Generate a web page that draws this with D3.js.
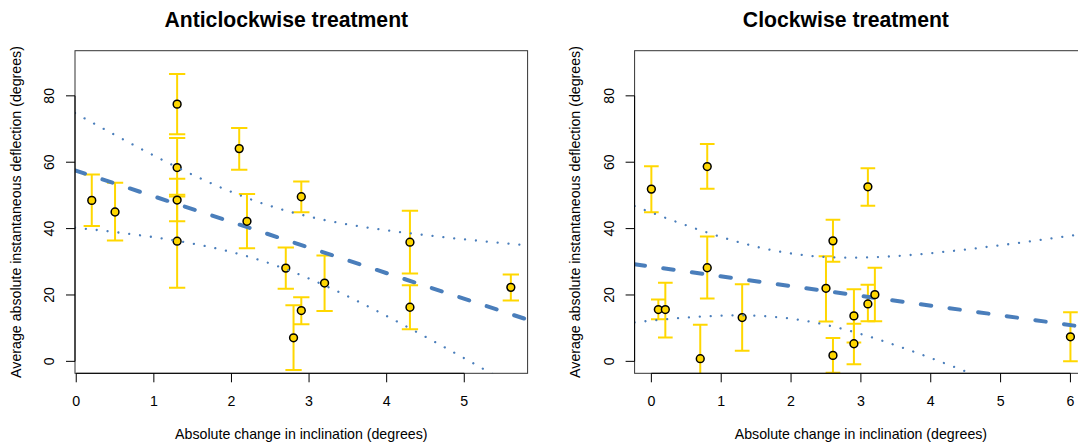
<!DOCTYPE html>
<html>
<head>
<meta charset="utf-8">
<script src="https://cdn.jsdelivr.net/npm/d3@7"></script>
<style>
  body { margin: 0; background: #fff; }
  text { font-family: "Liberation Sans", Arial, Helvetica, sans-serif; fill: #000; }
</style>
</head>
<body>
<svg id="chart" width="1078" height="447"></svg>
<script>
// ---- Anticlockwise treatment: per-fish means with error-bar limits ----
const antiX     = [0.2, 0.5, 1.3, 1.3, 1.3, 1.3, 2.1, 2.2, 2.7, 2.8, 2.9, 2.9, 3.2, 4.3, 4.3, 5.6];
const antiMean  = [48.5, 45.0, 77.5, 58.4, 48.6, 36.2, 64.1, 42.2, 28.1, 7.1, 15.3, 49.6, 23.6, 35.9, 16.3, 22.3];
const antiUpper = [56.3, 53.8, 86.6, 67.3, 55.0, 50.2, 70.3, 50.4, 34.3, 16.9, 19.3, 54.2, 31.9, 45.4, 22.9, 26.2];
const antiLower = [40.8, 36.4, 68.4, 49.7, 42.2, 22.2, 57.7, 34.1, 21.9, -2.6, 11.2, 44.9, 15.2, 26.5, 9.7, 18.3];

// ---- Clockwise treatment ----
const clockX     = [0.0, 0.1, 0.2, 0.7, 0.8, 0.8, 1.3, 2.5, 2.6, 2.6, 2.9, 2.9, 3.1, 3.1, 3.2, 6.0];
const clockMean  = [51.9, 15.6, 15.6, 0.8, 58.7, 28.2, 13.2, 22.0, 36.3, 1.8, 13.7, 5.3, 52.6, 17.3, 20.1, 7.4];
const clockUpper = [58.8, 18.6, 23.7, 11.0, 65.5, 37.6, 23.2, 31.7, 42.7, 7.0, 21.7, 11.3, 58.2, 23.1, 28.2, 14.8];
const clockLower = [44.9, 12.7, 7.2, -9.4, 52.0, 18.9, 3.2, 12.0, 30.0, -3.4, 5.7, -0.9, 46.9, 12.1, 12.1, 0.0];

// ---- Axis ticks and labels ----
const antiXTicks  = [0, 1, 2, 3, 4, 5];
const clockXTicks = [0, 1, 2, 3, 4, 5, 6];
const yTicks      = [0, 20, 40, 60, 80];
const yLimits     = [0, 90];
const panelTitles = ["Anticlockwise treatment", "Clockwise treatment"];
const xAxisTitle  = "Absolute change in inclination (degrees)";
const yAxisTitle  = "Average absolute instantaneous deflection (degrees)";

// two-sided 95% t quantile, 14 residual degrees of freedom (n = 16)
const T_CRIT = 2.144787;

const svg = d3.select("#chart");
svg.append("rect").attr("width", 1078).attr("height", 447).attr("fill", "#fff");

const COL_BAR = "#FFD700";
const COL_FIT = "#4A7EBB";
const LAB_SIZE = 14.2;

// R-style 4% padding of the axis range
function padded(lo, hi) {
  const d = (hi - lo) * 0.04;
  return [lo - d, hi + d];
}

// ordinary least squares with pointwise confidence band for the mean
function olsFit(xs, ys) {
  const n = xs.length;
  const mx = d3.mean(xs), my = d3.mean(ys);
  let sxx = 0, sxy = 0;
  xs.forEach((x, i) => { sxx += (x - mx) ** 2; sxy += (x - mx) * (ys[i] - my); });
  const b = sxy / sxx, a = my - b * mx;
  const rss = d3.sum(xs, (x, i) => (ys[i] - (a + b * x)) ** 2);
  const s2 = rss / (n - 2);
  return {
    pred: x => a + b * x,
    half: x => T_CRIT * Math.sqrt(s2 * (1 / n + (x - mx) ** 2 / sxx))
  };
}

function drawPanel(cfg, idx) {
  const { x0, xs, mean, upper, lower, xTicks, title } = cfg;
  const top = 50.7, h = 322.6, w = 452.6;
  const bottom = top + h;

  const x = d3.scaleLinear().domain(padded(d3.min(xs), d3.max(xs))).range([x0, x0 + w]);
  const y = d3.scaleLinear().domain(padded(yLimits[0], yLimits[1])).range([bottom, top]);

  const g = svg.append("g");
  const clipId = "clip" + idx;
  g.append("clipPath").attr("id", clipId)
    .append("rect").attr("x", x0).attr("y", top).attr("width", w).attr("height", h);

  const plot = g.append("g").attr("clip-path", `url(#${clipId})`);
  const rows = xs.map((xv, i) => ({ x: xv, m: mean[i], hi: upper[i], lo: lower[i] }));

  // error bars
  const capHalf = 0.105;
  const bars = plot.append("g").attr("stroke", COL_BAR).attr("stroke-width", 2).attr("fill", "none");
  rows.forEach(r => {
    bars.append("line").attr("x1", x(r.x)).attr("x2", x(r.x)).attr("y1", y(r.lo)).attr("y2", y(r.hi));
    bars.append("line").attr("x1", x(r.x - capHalf)).attr("x2", x(r.x + capHalf)).attr("y1", y(r.hi)).attr("y2", y(r.hi));
    bars.append("line").attr("x1", x(r.x - capHalf)).attr("x2", x(r.x + capHalf)).attr("y1", y(r.lo)).attr("y2", y(r.lo));
  });

  // regression line and confidence band
  const fit = olsFit(xs, mean);
  const dom = x.domain();
  const grid = d3.range(0, 201).map(k => dom[0] + (dom[1] - dom[0]) * k / 200);
  const line = d3.line().x(d => x(d[0])).y(d => y(d[1]));

  plot.append("path")
    .attr("d", line(dom.map(v => [v, fit.pred(v)])))
    .attr("fill", "none").attr("stroke", COL_FIT).attr("stroke-width", 4)
    .attr("stroke-linecap", "round").attr("stroke-dasharray", "10.5 18.4");

  // points
  plot.append("g").selectAll("circle").data(rows).join("circle")
    .attr("cx", d => x(d.x)).attr("cy", d => y(d.m)).attr("r", 3.9)
    .attr("fill", COL_BAR).attr("stroke", "#000").attr("stroke-width", 1.5);

  [1, -1].forEach(sgn => {
    plot.append("path")
      .attr("d", line(grid.map(v => [v, fit.pred(v) + sgn * fit.half(v)])))
      .attr("fill", "none").attr("stroke", COL_FIT).attr("stroke-width", 2.3)
      .attr("stroke-linecap", "round").attr("stroke-dasharray", "0.01 10.9");
  });

  // box
  g.append("rect").attr("x", x0).attr("y", top).attr("width", w).attr("height", h)
    .attr("fill", "none").attr("stroke", "#333").attr("stroke-width", 1);

  // x axis
  const tick = 9;
  const xa = g.append("g").attr("stroke", "#000").attr("stroke-width", 1);
  xa.append("line").attr("x1", x(xTicks[0])).attr("x2", x(xTicks[xTicks.length - 1]))
    .attr("y1", bottom).attr("y2", bottom);
  xTicks.forEach(t => xa.append("line").attr("x1", x(t)).attr("x2", x(t)).attr("y1", bottom).attr("y2", bottom + tick));
  g.selectAll(".xl").data(xTicks).join("text")
    .attr("x", d => x(d)).attr("y", 405.6).attr("text-anchor", "middle")
    .attr("font-size", LAB_SIZE).text(d => d);

  // y axis
  const ya = g.append("g").attr("stroke", "#000").attr("stroke-width", 1);
  ya.append("line").attr("x1", x0).attr("x2", x0).attr("y1", y(yTicks[0])).attr("y2", y(yTicks[yTicks.length - 1]));
  yTicks.forEach(t => ya.append("line").attr("x1", x0 - tick).attr("x2", x0).attr("y1", y(t)).attr("y2", y(t)));
  yTicks.forEach(t => {
    g.append("text").attr("transform", `translate(${x0 - 21},${y(t)}) rotate(-90)`)
      .attr("text-anchor", "middle").attr("font-size", LAB_SIZE).text(t);
  });

  // titles
  g.append("text").attr("x", x0 + w / 2 - 15).attr("y", 27).attr("text-anchor", "middle")
    .attr("font-size", 21.2).attr("font-weight", "bold").text(title);
  g.append("text").attr("x", x0 + w / 2).attr("y", 438.5).attr("text-anchor", "middle")
    .attr("font-size", LAB_SIZE).text(xAxisTitle);
  g.append("text").attr("transform", `translate(${x0 - 54.5},${top + h / 2}) rotate(-90)`)
    .attr("text-anchor", "middle").attr("font-size", LAB_SIZE).text(yAxisTitle);
}

drawPanel({ x0: 75, xs: antiX, mean: antiMean, upper: antiUpper, lower: antiLower,
            xTicks: antiXTicks, title: panelTitles[0] }, 0);
drawPanel({ x0: 634.6, xs: clockX, mean: clockMean, upper: clockUpper, lower: clockLower,
            xTicks: clockXTicks, title: panelTitles[1] }, 1);
</script>
</body>
</html>
